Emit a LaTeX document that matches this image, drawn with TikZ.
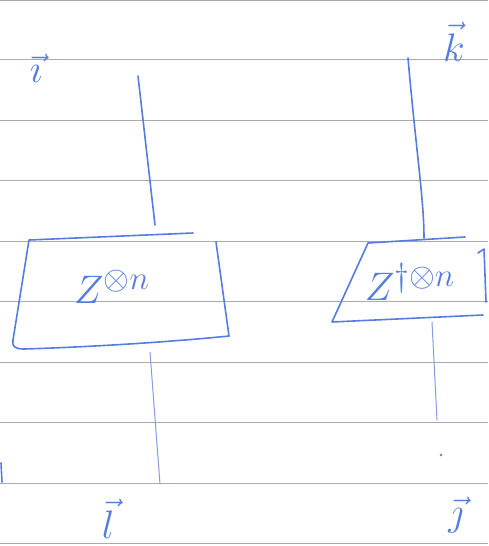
\documentclass[tikz,border=0pt]{standalone}
\usepackage{amsmath}
\usepackage{graphicx}
\definecolor{inkblue}{RGB}{85,125,225}
\definecolor{rulegray}{RGB}{170,170,170}
\newcommand{\bigtxt}[1]{\scalebox{1.6}{\Huge #1}}
\begin{document}
\begin{tikzpicture}[x=1pt,y=-1pt,
  ink/.style={draw=inkblue,line width=1.6pt,line cap=round,line join=round},
  thinink/.style={draw=inkblue!75,line width=1pt,line cap=round},
  ruleline/.style={draw=rulegray,line width=0.8pt},
  lbl/.style={text=inkblue,inner sep=0pt},
  boxlbl/.style={text=inkblue,inner sep=0pt}]
\useasboundingbox (0,0) rectangle (488,546);
\foreach \y in {0,59,120,180,241,301,362,422,483,543}
  \draw[ruleline] (0,\y) -- (488,\y);

% left box
\coordinate (L1) at (29,240);
\coordinate (L2) at (193,233);
\coordinate (L3) at (216,242);
\coordinate (L4) at (229,336);
\coordinate (L5) at (12,348);
\draw[ink] (L2) -- (L1) -- (13,340) .. controls (12,346) and (14,349) .. (24,349)
  .. controls (90,347) and (170,342) .. (L4) -- (L3);
\node[boxlbl] (zl) at (112,287) {\bigtxt{$Z^{\otimes n}$}};

% right box
\coordinate (R1) at (368,243);
\coordinate (R2) at (465,237);
\coordinate (R3) at (332,322);
\coordinate (R4) at (483,315);
\draw[ink] (R2) -- (R1) -- (R3) -- (R4);
\draw[ink] (478,253) -- (484,249) -- (486,302);
\node[boxlbl] (zr) at (410,282) {\bigtxt{$Z^{\dagger\otimes n}$}};

% connectors
\coordinate (a1) at (138,76);
\coordinate (a2) at (155,225);
\coordinate (b1) at (150,352);
\coordinate (b2) at (160,484);
\coordinate (c1) at (408,58);
\coordinate (c2) at (424,238);
\coordinate (d1) at (432,322);
\coordinate (d2) at (437,420);
\draw[ink] (a1) -- (a2);
\draw[thinink] (b1) -- (b2);
\draw[ink] (c1) .. controls (416,150) and (424,200) .. (c2);
\draw[thinink] (d1) -- (d2);
\fill[inkblue] (441,455) circle (1.3);
\draw[ink] (1,463) -- (2,482);

% labels
\node[lbl] (vi) at (36,68) {\bigtxt{$\vec{\imath}$}};
\node[lbl] (vk) at (454,42) {\bigtxt{$\vec{k}$}};
\node[lbl] (vl) at (108,519) {\bigtxt{$\vec{l}$}};
\node[lbl] (vj) at (456,515) {\bigtxt{$\vec{\jmath}$}};
\end{tikzpicture}
\end{document}
